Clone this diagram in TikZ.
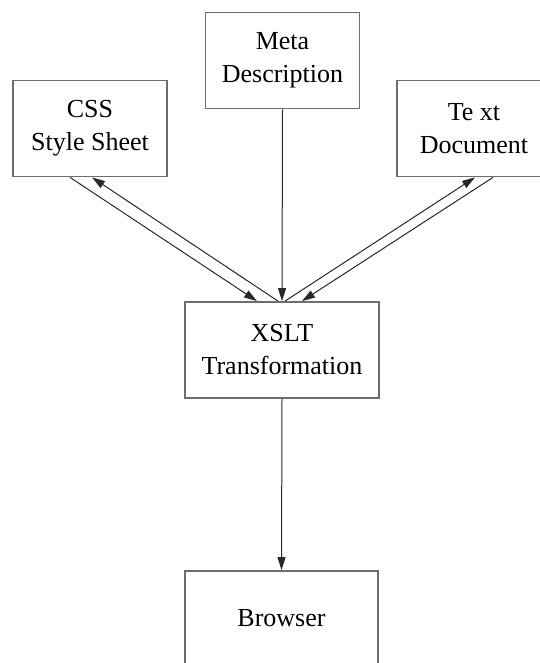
\documentclass[tikz,border=0pt]{standalone}
\usepackage{fontspec}
\setmainfont{Liberation Serif}
\usetikzlibrary{arrows.meta}
\definecolor{boxgray}{RGB}{110,110,110}
\definecolor{linegray}{RGB}{40,40,40}

\begin{document}
\begin{tikzpicture}[
    x=1pt, y=-1pt,
    stage/.style={rectangle, draw=boxgray, line width=1.8pt, fill=white, align=center,
                  font=\fontsize{26}{33}\selectfont, inner sep=0pt},
    srcbox/.style={stage, minimum width=154pt, minimum height=96pt},
    flow/.style={-{Triangle[length=13pt, width=8pt]}, linegray, line width=1pt}
]
\useasboundingbox (0,0) rectangle (539,663);

% Sources
\node[srcbox] (meta) at (282.5, 60.5) {Meta\\Description};
\node[srcbox] (css) at (90, 128.5) {CSS\\Style Sheet};
\node[srcbox] (text) at (474, 128.5) {Te xt\\Document};

% Transformation
\node[stage, minimum width=194pt, minimum height=96pt] (xslt) at (282, 350) {XSLT\\Transformation};

% Output
\node[stage, minimum width=193pt, minimum height=94pt] (browser) at (281.5, 618) {Browser};

% Connections
\draw[flow] (meta.south) -- (xslt.north);
\draw[flow] ([xshift=-20pt]css.south) -- ([xshift=-25pt]xslt.north);
\draw[flow] ([xshift=-4pt]xslt.north) -- ([xshift=2pt]css.south);
\draw[flow] ([xshift=3pt]xslt.north) -- ([xshift=1pt]text.south);
\draw[flow] ([xshift=19pt]text.south) -- ([xshift=20pt]xslt.north);
\draw[flow] (xslt.south) -- (browser.north);

\end{tikzpicture}
\end{document}
